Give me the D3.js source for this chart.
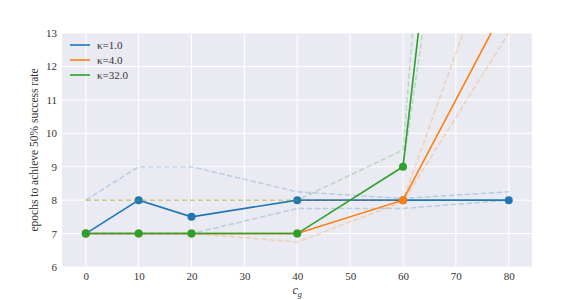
<html>
<head>
<script src="https://cdn.jsdelivr.net/npm/d3@7"></script>
<style>
  body { margin: 0; background: #fff; }
  text { font-family: "Liberation Serif", "DejaVu Serif", serif; fill: #333; }
</style>
</head>
<body>
<svg width="568" height="300"></svg>
<script>
// data
var cg = [0, 10, 20, 40, 60, 80]
var kappas = ['1.0', '4.0', '32.0']
var meanK1 = [7, 8, 7.5, 8, 8, 8]
var upK1   = [8, 9, 9, 8.25, 8.05, 8.25]
var loK1   = [7, 7, 7, 7.75, 7.75, 8]
var meanK4 = [7, 7, 7, 7, 8, 14]
var upK4   = [8, 8, 8, 8, 8, 16.8]
var loK4   = [7, 7, 7, 6.75, 7.95, 13]
var meanK32 = [7, 7, 7, 7, 9, 36.6]
var upK32   = [8, 8, 8, 8, 9.5, 48.4]
var loK32   = [7, 7, 7, 7, 9, 30.6]
var xTicks = [0, 10, 20, 30, 40, 50, 60, 70, 80]
var yTicks = [6, 7, 8, 9, 10, 11, 12, 13]

var colors = ['#1f77b4', '#ff7f0e', '#2ca02c']
var series = [
  {mean: meanK1, up: upK1, lo: loK1},
  {mean: meanK4, up: upK4, lo: loK4},
  {mean: meanK32, up: upK32, lo: loK32}
]

var L = 62, R = 532, T = 33, B = 267
var x = d3.scaleLinear().domain([-4.5, 84.4]).range([L, R])
var y = d3.scaleLinear().domain([6, 13]).range([B, T])

var svg = d3.select('svg')

svg.append('rect')
  .attr('x', L).attr('y', T)
  .attr('width', R - L).attr('height', B - T)
  .attr('fill', '#eaeaf2')

svg.append('clipPath').attr('id', 'clip')
  .append('rect')
  .attr('x', L).attr('y', T)
  .attr('width', R - L).attr('height', B - T)

// grid
svg.append('g').selectAll('line')
  .data(xTicks).enter().append('line')
  .attr('x1', function(d){ return x(d) }).attr('x2', function(d){ return x(d) })
  .attr('y1', T).attr('y2', B)
  .attr('stroke', '#fff').attr('stroke-width', 1)
svg.append('g').selectAll('line')
  .data(yTicks).enter().append('line')
  .attr('x1', L).attr('x2', R)
  .attr('y1', function(d){ return y(d) }).attr('y2', function(d){ return y(d) })
  .attr('stroke', '#fff').attr('stroke-width', 1)

// axes, drawn without domain line and tick marks
var xAxis = svg.append('g')
  .attr('transform', 'translate(0,' + B + ')')
  .call(d3.axisBottom(x).tickValues(xTicks).tickFormat(d3.format('d')).tickSize(0).tickPadding(5))
var yAxis = svg.append('g')
  .attr('transform', 'translate(' + L + ',0)')
  .call(d3.axisLeft(y).tickValues(yTicks).tickFormat(d3.format('d')).tickSize(0).tickPadding(5))
xAxis.select('.domain').remove()
yAxis.select('.domain').remove()
svg.selectAll('.tick text')
  .attr('font-family', '"Liberation Serif", serif')
  .attr('font-size', 11)
  .attr('fill', '#333')

var line = d3.line()
  .x(function(d, i){ return x(cg[i]) })
  .y(function(d){ return y(d) })

var plot = svg.append('g').attr('clip-path', 'url(#clip)')

series.forEach(function(s, k){
  var g = plot.append('g')
  g.append('path').datum(s.up)
    .attr('d', line).attr('fill', 'none')
    .attr('stroke', colors[k]).attr('stroke-opacity', 0.25)
    .attr('stroke-width', 1.5).attr('stroke-dasharray', '5.5,2.5')
  g.append('path').datum(s.lo)
    .attr('d', line).attr('fill', 'none')
    .attr('stroke', colors[k]).attr('stroke-opacity', 0.25)
    .attr('stroke-width', 1.5).attr('stroke-dasharray', '5.5,2.5')
  g.append('path').datum(s.mean)
    .attr('d', line).attr('fill', 'none')
    .attr('stroke', colors[k]).attr('stroke-width', 1.6)
  g.selectAll('circle')
    .data(s.mean).enter().append('circle')
    .attr('cx', function(d, i){ return x(cg[i]) })
    .attr('cy', function(d){ return y(d) })
    .attr('r', 4)
    .attr('fill', colors[k])
})

// legend
var leg = svg.append('g').attr('transform', 'translate(70,45)')
kappas.forEach(function(kv, k){
  var row = leg.append('g').attr('transform', 'translate(0,' + k * 15 + ')')
  row.append('line')
    .attr('x1', 0).attr('x2', 20).attr('y1', 0).attr('y2', 0)
    .attr('stroke', colors[k]).attr('stroke-width', 1.6)
  row.append('text')
    .attr('x', 27).attr('y', 4)
    .attr('font-size', 11)
    .text('\u03ba=' + kv)
})

// axis labels
svg.append('text')
  .attr('transform', 'translate(38,' + ((T + B) / 2) + ') rotate(-90)')
  .attr('text-anchor', 'middle')
  .attr('font-size', 11.5)
  .text('epochs to achieve 50% success rate')

var xl = svg.append('text')
  .attr('x', x(40)).attr('y', 294)
  .attr('text-anchor', 'middle')
  .attr('font-size', 12)
xl.append('tspan').attr('font-style', 'italic').text('c')
xl.append('tspan').attr('font-style', 'italic').attr('font-size', 8.5).attr('dy', 3).text('g')
</script>
</body>
</html>
